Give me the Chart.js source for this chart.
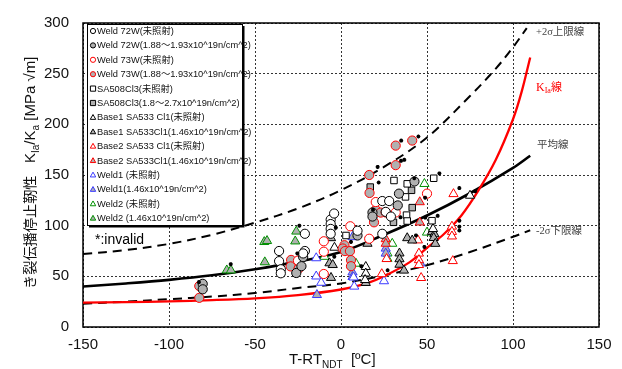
<!DOCTYPE html>
<html>
<head>
<meta charset="utf-8">
<script src="https://cdn.jsdelivr.net/npm/chart.js@4.4.1/dist/chart.umd.min.js"></script>
<style>
    body { margin: 0; background: #fff; }
    canvas { display: block; }
</style>
</head>
<body>
<canvas id="arrestChart" width="622" height="369"></canvas>
<script>
// =========================
// Data
// =========================

const xTicks = [-150, -100, -50, 0, 50, 100, 150];
const yTicks = [0, 50, 100, 150, 200, 250, 300];

// reference curves [T-RTndt, K]
const kiaCurve = [[-150, 24], [-125, 24.5], [-100, 25.3], [-75, 26.5], [-50, 28.3], [-25, 31.5], [0, 37], [15, 43], [25, 50], [40, 64], [50, 78], [60, 92], [70, 110], [80, 135], [90, 165], [100, 205], [105, 232], [110, 266]];
const meanCurve = [[-150, 40], [-125, 43], [-100, 46.5], [-75, 51], [-50, 57], [-25, 64.5], [0, 74], [25, 91], [50, 110], [75, 132], [100, 157], [110, 169]];
const upperCurve = [[-150, 72], [-125, 76], [-100, 82], [-75, 91], [-50, 103], [-25, 117], [0, 135], [25, 158], [50, 187], [75, 228], [90, 255], [100, 276], [108, 295]];
const lowerCurve = [[-150, 23], [-125, 25], [-100, 27.5], [-75, 30], [-50, 33.5], [-25, 38.5], [0, 43], [25, 51], [50, 61], [75, 74], [100, 89], [110, 95.5]];

// measured points
const weld72wUnirr = [[-36, 75], [-36, 65], [-35, 57], [-35, 53], [-21, 92], [-21, 75], [-22, 72.6], [-6, 106], [-6, 101.6], [-6, 96.8], [-6, 92], [-4, 112], [9.6, 95], [24, 124.3], [28, 124.3], [26, 113.6], [29, 109], [24, 92]];
const weld72wIrr = [[-80.4, 42.6], [-80.4, 37.2], [-26, 53.3], [18.3, 113], [18.3, 109], [33, 120], [42.7, 143.6], [33.7, 131.6], [9.6, 90.3], [-22, 69], [-23, 60]];
const weld73wUnirr = [[-10, 84.6], [-10, 74.3], [-10, 52.3], [5.4, 99.4], [16.4, 87.1], [20.2, 123.3], [31.8, 113], [50, 131.6], [-25, 65.5]];
const weld73wIrr = [[-82.4, 40.4], [-82.4, 28.8], [31.8, 179], [41.4, 184], [31.8, 159.7], [16.4, 150], [16.6, 132.3], [20.2, 115.6], [23.1, 112.9], [19.2, 103.3], [2, 80.7], [1, 77.5], [2.3, 74.9], [5.2, 74.9], [5.8, 66], [5.8, 60], [-29, 66.2], [-29.3, 59.8], [-24.7, 57.5], [26, 113]];
const sa508Unirr = [[30.8, 144.6], [38.5, 141.3], [37.5, 128.4], [53.9, 146.8], [38.1, 110.4], [38.5, 104.6], [52.9, 104.9], [2.9, 90.3]];
const sa508Irr = [[17, 138.1], [41, 134.9], [18.9, 106.5], [30.5, 103.3], [41.4, 117.8]];
const base1Unirr = [[75, 129.7], [53.5, 96.8], [-3.8, 78.4], [14.4, 59.4], [14.4, 52.9], [14, 46.5]];
const base1Irr = [[38.5, 87.8], [41.4, 85.5], [52.9, 94], [54.3, 91.7], [53.9, 88], [54.8, 82.2], [34, 72.7], [34, 67], [34, 61.6], [36.6, 55.8], [-5.8, 87.8], [-6.7, 63], [-4.8, 61.3], [-5.8, 48.6], [15.4, 82.3], [14.4, 43.6]];
const base2Unirr = [[65.4, 131.3], [64.5, 99.2], [64.5, 94], [64.5, 89.5], [65, 65.2], [44.7, 85.6], [45.3, 72.6], [45.3, 66.1], [45.3, 61.3], [46.6, 48.5], [23.7, 52.3], [26.5, 67.2]];
const base2Irr = [[45.8, 123.3], [45.8, 103.3], [26, 86.8], [26, 82.3]];
const weld1Unirr = [[-14.4, 68], [-14.4, 50], [-11.5, 43.8], [7.7, 40], [25, 45.3], [7.3, 49]];
const weld1Irr = [[-14, 31.7], [6.7, 88.8], [6.7, 54], [6.7, 49.5], [26, 77.5], [26, 72.6], [46.2, 62.9]];
const weld2Unirr = [[48.5, 141.3], [50, 93.3], [29.8, 82.3], [27, 72.7], [8.7, 91.7], [8.7, 62.6], [-9.6, 69.4], [27, 67.4]];
const weld2Irr = [[-26, 94.3], [-26.6, 84.6], [-44.6, 84], [-43, 85], [-44.3, 64], [-66.4, 56], [-64, 56]];

// "*" marks of invalid results
const invalidMarks = [[35, 184], [45, 188], [34.9, 164], [36.8, 165], [21.3, 158], [21.9, 142.6], [42.6, 146.8], [57.2, 151.6], [48.9, 127.6], [34.6, 108.2], [43.6, 90.4], [68.8, 137.1], [78, 134], [49, 108], [56.2, 109.7], [68.8, 104.9], [68.8, 99], [68.8, 95.2], [48.5, 79], [27.1, 56], [-24.2, 100], [-64.1, 62], [-25.4, 72.6], [-82.6, 44.3], [-3.9, 69.4], [-3, 98], [5.8, 84], [11.8, 60], [18.6, 115.6]];

// =========================
// Styles
// =========================

const GRAY = "#b0b0b0";
const RED = "#ff0000";
const BLUE = "#3a3aff";
const GREEN = "#009000";
const FONT = "'Liberation Sans', 'Noto Sans CJK JP', sans-serif";
const SERIF = "'Liberation Serif', 'Noto Sans CJK JP', serif";

function toXY(pairs) {
    return pairs.map(p => ({ x: p[0], y: p[1] }));
}

function curve(pairs, color, width, dash) {
    return {
        label: "",
        data: toXY(pairs),
        showLine: true,
        borderColor: color,
        borderWidth: width,
        borderDash: dash,
        pointRadius: 0,
        tension: 0.35,
        order: 2
    };
}

function marks(label, pairs, style, border, fill) {
    return {
        label: label,
        data: toXY(pairs),
        pointStyle: style,
        pointRadius: style === "triangle" ? 5.3 : 4.6,
        pointBorderWidth: 1,
        borderColor: border,
        backgroundColor: fill,
        order: 1
    };
}

const series = [
    marks("Weld 72W(未照射)", weld72wUnirr, "circle", "#000", "#fff"),
    marks("Weld 72W(1.88～1.93x10^19n/cm^2)", weld72wIrr, "circle", "#000", GRAY),
    marks("Weld 73W(未照射)", weld73wUnirr, "circle", RED, "#fff"),
    marks("Weld 73W(1.88～1.93x10^19n/cm^2)", weld73wIrr, "circle", RED, GRAY),
    marks("SA508Cl3(未照射)", sa508Unirr, "rect", "#000", "#fff"),
    marks("SA508Cl3(1.8～2.7x10^19n/cm^2)", sa508Irr, "rect", "#000", GRAY),
    marks("Base1 SA533 Cl1(未照射)", base1Unirr, "triangle", "#000", "#fff"),
    marks("Base1 SA533Cl1(1.46x10^19n/cm^2)", base1Irr, "triangle", "#000", GRAY),
    marks("Base2 SA533 Cl1(未照射)", base2Unirr, "triangle", RED, "#fff"),
    marks("Base2 SA533Cl1(1.46x10^19n/cm^2)", base2Irr, "triangle", RED, GRAY),
    marks("Weld1 (未照射)", weld1Unirr, "triangle", BLUE, "#fff"),
    marks("Weld1(1.46x10^19n/cm^2)", weld1Irr, "triangle", BLUE, GRAY),
    marks("Weld2 (未照射)", weld2Unirr, "triangle", GREEN, "#fff"),
    marks("Weld2 (1.46x10^19n/cm^2)", weld2Irr, "triangle", GREEN, GRAY)
];

const datasets = [
    curve(kiaCurve, RED, 2.3, []),
    curve(meanCurve, "#000", 2.6, []),
    curve(upperCurve, "#000", 2, [9, 6]),
    curve(lowerCurve, "#000", 2, [9, 6]),
    ...series,
    {
        label: "*",
        data: toXY(invalidMarks),
        pointStyle: "star",
        pointRadius: 2,
        pointBorderWidth: 1.2,
        borderColor: "#000",
        backgroundColor: "#000",
        order: 0
    }
];

// =========================
// Drawing helpers
// =========================

function drawMarker(ctx, style, x, y, r, border, fill) {
    ctx.beginPath();
    if (style === "circle") {
        ctx.arc(x, y, r, 0, Math.PI * 2);
    } else if (style === "rect") {
        ctx.rect(x - r, y - r, r * 2, r * 2);
    } else {
        ctx.moveTo(x, y - r * 1.1);
        ctx.lineTo(x + r * 1.05, y + r * 0.75);
        ctx.lineTo(x - r * 1.05, y + r * 0.75);
        ctx.closePath();
    }
    ctx.fillStyle = fill;
    ctx.fill();
    ctx.lineWidth = 1;
    ctx.strokeStyle = border;
    ctx.stroke();
}

// draws pieces of text one after another: [text, size, dy]
function drawRun(ctx, parts, x, y, family, color) {
    ctx.fillStyle = color;
    ctx.textBaseline = "alphabetic";
    ctx.textAlign = "left";
    parts.forEach(p => {
        ctx.font = p[1] + "px " + family;
        ctx.fillText(p[0], x, y + (p[2] || 0));
        x += ctx.measureText(p[0]).width;
    });
}

const figurePlugin = {
    id: "figurePlugin",
    beforeDatasetsDraw(chart) {
        const ctx = chart.ctx;
        const a = chart.chartArea;
        ctx.save();
        ctx.strokeStyle = "#000";
        ctx.lineWidth = 1.5;
        ctx.strokeRect(a.left, a.top, a.right - a.left, a.bottom - a.top);
        ctx.restore();
    },
    afterDatasetsDraw(chart) {
        const ctx = chart.ctx;
        const a = chart.chartArea;
        ctx.save();

        // legend box
        const lx = a.left + 4;
        const ly = a.top + 1;
        const lw = 155;
        const lh = 201;
        ctx.fillStyle = "#fff";
        ctx.fillRect(lx, ly, lw, lh);
        ctx.strokeStyle = "#000";
        ctx.lineWidth = 1;
        ctx.strokeRect(lx + 0.5, ly + 0.5, lw, lh);
        ctx.lineWidth = 2;
        ctx.beginPath();
        ctx.moveTo(lx + lw + 1.5, ly + 2);
        ctx.lineTo(lx + lw + 1.5, ly + lh + 1.5);
        ctx.lineTo(lx + 2, ly + lh + 1.5);
        ctx.stroke();

        series.forEach((ds, i) => {
            const y = ly + 7 + i * 14.4;
            drawMarker(ctx, ds.pointStyle, lx + 6, y, 2.6, ds.borderColor, ds.backgroundColor);
            ctx.font = "9.3px " + FONT;
            ctx.fillStyle = "#111";
            ctx.textAlign = "left";
            ctx.textBaseline = "middle";
            ctx.fillText(ds.label, lx + 10, y + 0.5);
        });

        // invalid note
        ctx.font = "14px " + FONT;
        ctx.fillStyle = "#000";
        ctx.textBaseline = "alphabetic";
        ctx.fillText("*:invalid", 95, 244);

        // curve labels
        drawRun(ctx, [["+2σ上限線", 10.5]], 536, 35, SERIF, "#444");
        drawRun(ctx, [["K", 12], ["Ia", 8, 2], ["線", 11]], 536, 91, SERIF, RED);
        drawRun(ctx, [["平均線", 10.5]], 537, 148, SERIF, "#444");
        drawRun(ctx, [["-2σ下限線", 10.5]], 536, 234, SERIF, "#444");

        ctx.restore();
    },
    afterDraw(chart) {
        const ctx = chart.ctx;
        ctx.save();

        // x axis title
        drawRun(ctx, [["T-RT", 15], ["NDT", 10, 4], ["  [ºC]", 15]], 289, 364, FONT, "#111");

        // y axis title, rotated
        ctx.translate(35, 289);
        ctx.rotate(-Math.PI / 2);
        drawRun(ctx, [["き裂伝播停止靭性", 14.2], ["   K", 15], ["Ia", 10, 4], ["/K", 15], ["a", 10, 4], [" [MPa √m]", 15]], 0, 0, FONT, "#111");

        ctx.restore();
    }
};

// =========================
// Chart
// =========================

const ctx = document.getElementById("arrestChart");

const chart = new Chart(ctx, {
    type: "scatter",
    data: { datasets: datasets },
    options: {
        responsive: false,
        animation: false,
        layout: { padding: { left: 0, right: 23, top: 17, bottom: 0 } },
        plugins: {
            legend: { display: false },
            tooltip: { enabled: false }
        },
        scales: {
            x: {
                min: xTicks[0],
                max: xTicks[xTicks.length - 1],
                afterBuildTicks: s => { s.ticks = xTicks.map(v => ({ value: v })); },
                ticks: { color: "#111", font: { size: 15, family: FONT }, padding: 9, maxRotation: 0 },
                grid: { color: "#333", lineWidth: 1, drawTicks: false },
                border: { display: false, dash: [2, 2] },
                afterFit: s => { s.height = 42; }
            },
            y: {
                min: yTicks[0],
                max: yTicks[yTicks.length - 1],
                afterBuildTicks: s => { s.ticks = yTicks.map(v => ({ value: v })); },
                ticks: { color: "#111", font: { size: 15, family: FONT }, padding: 14 },
                grid: { color: "#333", lineWidth: 1, drawTicks: false },
                border: { display: false, dash: [2, 2] },
                afterFit: s => { s.width = 83; }
            }
        }
    },
    plugins: [figurePlugin]
});
</script>
</body>
</html>
